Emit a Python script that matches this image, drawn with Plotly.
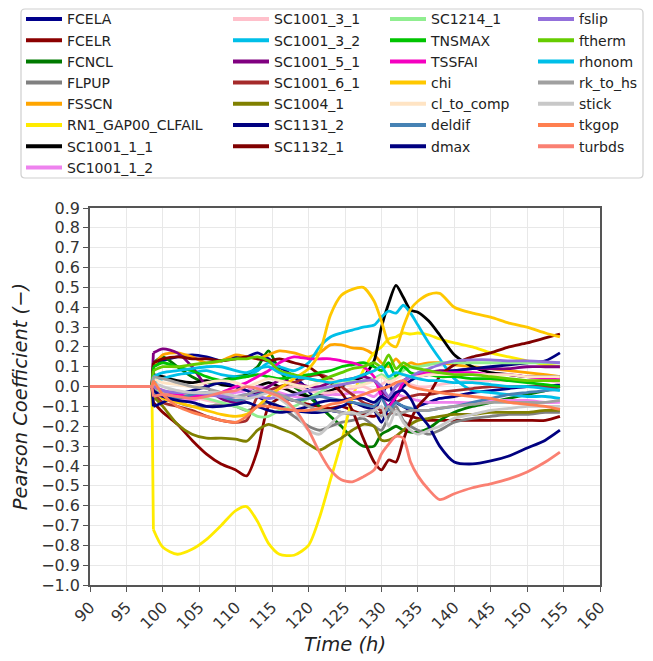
import plotly.graph_objects as go

# ---- time base (h) -------------------------------------------------------
# every coefficient is zero until the transient starts
time_pre = [90.0, 98.5]
time_h = [98.7, 100, 102, 104, 106, 108, 110, 111.5, 113, 114.5,
          116, 118, 120, 121.5, 123, 124.5, 126, 127.5, 129, 130,
          131, 132, 133, 134, 135, 136.5, 138, 140, 142.5, 145,
          147.5, 150, 152.5, 154.5]

# ---- Pearson coefficients per input parameter ----------------------------
fcela = [0.10, 0.13, 0.15, 0.16, 0.15, 0.13, 0.15, 0.15, 0.17, 0.14,
         0.10, 0.05, -0.02, -0.10, -0.12, -0.13, -0.14, -0.13, -0.12, -0.05,
         0.02, -0.08, -0.10, -0.12, -0.10, -0.08, -0.06, -0.05, -0.03, -0.02,
         -0.01, 0.00, 0.00, 0.01]
fcelr = [-0.08, -0.13, -0.19, -0.27, -0.34, -0.39, -0.42, -0.45, -0.32, -0.10,
         -0.06, -0.07, -0.09, -0.10, -0.11, -0.10, -0.12, -0.14, -0.15, -0.13,
         -0.14, -0.12, -0.14, -0.15, -0.16, -0.17, -0.17, -0.17, -0.17, -0.17,
         -0.17, -0.17, -0.17, -0.15]
fcncl = [0.12, 0.15, 0.10, 0.05, 0.02, 0.03, 0.05, 0.06, 0.10, 0.18,
         0.08, 0.00, -0.05, -0.10, -0.15, -0.20, -0.26, -0.30, -0.30, -0.24,
         -0.22, -0.20, -0.22, -0.23, -0.23, -0.21, -0.17, -0.13, -0.10, -0.08,
         -0.06, -0.04, -0.02, 0.00]
flpup = [0.00, -0.05, -0.08, -0.10, -0.10, -0.09, -0.10, -0.12, -0.10, -0.08,
         -0.10, -0.15, -0.20, -0.22, -0.20, -0.18, -0.17, -0.16, -0.20, -0.22,
         -0.15, -0.10, -0.17, -0.20, -0.22, -0.24, -0.22, -0.18, -0.16, -0.15,
         -0.14, -0.14, -0.13, -0.13]
fsscn = [0.10, 0.16, 0.17, 0.15, 0.12, 0.13, 0.16, 0.15, 0.14, 0.16,
         0.18, 0.17, 0.15, 0.17, 0.21, 0.21, 0.195, 0.19, 0.16, 0.12,
         0.10, 0.14, 0.10, 0.12, 0.11, 0.12, 0.12, 0.11, 0.10, 0.09,
         0.08, 0.07, 0.06, 0.05]
rn1_gap00_clfail = [-0.72, -0.81, -0.845, -0.82, -0.77, -0.70, -0.625, -0.605, -0.68, -0.79,
                    -0.845, -0.85, -0.80, -0.66, -0.47, -0.28, -0.06, 0.08, 0.17, 0.20,
                    0.24, 0.25, 0.27, 0.265, 0.27, 0.26, 0.24, 0.22, 0.20, 0.17,
                    0.15, 0.13, 0.11, 0.10]
sc1001_1_1 = [0.06, 0.05, 0.03, 0.02, 0.03, 0.01, 0.00, -0.02, 0.00, 0.02,
              0.00, -0.03, -0.05, -0.04, -0.02, 0.00, 0.03, 0.05, 0.13, 0.30,
              0.42, 0.51, 0.45, 0.385, 0.375, 0.33, 0.26, 0.16, 0.10, 0.07,
              0.06, 0.05, 0.05, 0.05]
sc1001_1_2 = [-0.02, -0.05, -0.06, -0.07, -0.05, -0.04, -0.03, -0.02, 0.00, -0.01,
              -0.03, -0.05, -0.06, -0.05, -0.04, -0.04, -0.03, -0.03, -0.05, -0.02,
              -0.06, -0.04, -0.05, -0.06, -0.07, -0.08, -0.08, -0.08, -0.08, -0.07,
              -0.07, -0.07, -0.08, -0.08]
sc1001_3_1 = [-0.05, -0.03, -0.02, -0.05, -0.07, -0.08, -0.06, -0.05, -0.03, -0.02,
              -0.01, 0.00, -0.02, -0.03, -0.03, -0.02, -0.01, 0.00, -0.02, 0.01,
              0.03, 0.00, 0.02, 0.01, 0.00, 0.00, 0.01, 0.02, 0.03, 0.03,
              0.03, 0.03, 0.03, 0.02]
sc1001_3_2 = [0.02, 0.04, 0.06, 0.07, 0.08, 0.06, 0.05, 0.05, 0.08, 0.12,
              0.10, 0.08, 0.12, 0.20, 0.25, 0.27, 0.285, 0.30, 0.31, 0.35,
              0.38, 0.37, 0.41, 0.37, 0.31, 0.22, 0.14, 0.04, -0.02, -0.03,
              -0.04, -0.05, -0.05, -0.06]
sc1001_5_1 = [0.17, 0.19, 0.17, 0.10, 0.00, -0.06, -0.08, -0.06, -0.03, 0.00,
              0.03, 0.02, 0.00, 0.00, 0.02, 0.03, 0.04, 0.05, 0.03, -0.02,
              -0.05, 0.00, 0.03, 0.05, 0.06, 0.07, 0.08, 0.08, 0.09, 0.09,
              0.09, 0.10, 0.10, 0.10]
sc1001_6_1 = [-0.03, -0.08, -0.10, -0.12, -0.15, -0.17, -0.18, -0.17, -0.05, -0.02,
              0.00, 0.02, 0.05, 0.06, 0.04, 0.00, -0.04, -0.08, -0.10, -0.12,
              -0.10, -0.08, -0.06, -0.05, -0.04, -0.04, -0.03, -0.02, -0.01, 0.00,
              0.00, 0.00, 0.00, 0.00]
sc1004_1 = [-0.05, -0.10, -0.19, -0.24, -0.26, -0.26, -0.265, -0.275, -0.22, -0.19,
            -0.21, -0.24, -0.29, -0.32, -0.29, -0.26, -0.22, -0.19, -0.20, -0.27,
            -0.27, -0.25, -0.22, -0.19, -0.17, -0.16, -0.15, -0.14, -0.14, -0.13,
            -0.13, -0.13, -0.12, -0.12]
sc1131_2 = [-0.10, -0.08, -0.04, -0.02, 0.00, 0.02, 0.00, -0.02, -0.05, -0.08,
            -0.10, -0.12, -0.13, -0.13, -0.12, -0.10, -0.08, -0.10, -0.12, -0.18,
            -0.10, -0.05, 0.00, 0.03, 0.05, 0.06, 0.07, 0.08, 0.09, 0.10,
            0.11, 0.12, 0.13, 0.17]
sc1132_1 = [0.12, 0.14, 0.15, 0.14, 0.14, 0.13, 0.14, 0.15, 0.14, 0.13,
            0.14, 0.12, 0.10, 0.06, 0.02, -0.03, -0.12, -0.26, -0.38, -0.42,
            -0.37, -0.38, -0.27, -0.17, -0.10, -0.04, 0.05, 0.11, 0.15, 0.17,
            0.20, 0.22, 0.245, 0.265]
sc1214_1 = [0.00, -0.03, -0.05, -0.04, -0.06, -0.08, -0.10, -0.12, -0.15, -0.15,
            -0.12, -0.10, -0.06, -0.03, 0.00, 0.02, 0.03, 0.02, 0.04, 0.06,
            0.04, 0.05, 0.08, 0.10, 0.10, 0.11, 0.12, 0.12, 0.12, 0.12,
            0.12, 0.12, 0.12, 0.12]
tnsmax = [0.10, 0.12, 0.10, 0.08, 0.05, 0.03, 0.04, 0.05, 0.06, 0.05,
          0.04, 0.05, 0.06, 0.07, 0.08, 0.10, 0.11, 0.12, 0.10, 0.08,
          0.12, 0.05, 0.10, 0.07, 0.06, 0.06, 0.05, 0.05, 0.04, 0.04,
          0.03, 0.02, 0.01, 0.00]
tssfai = [0.00, -0.02, -0.04, -0.05, -0.04, -0.03, 0.00, 0.02, 0.05, 0.08,
          0.12, 0.15, 0.14, 0.14, 0.14, 0.13, 0.12, 0.10, 0.05, -0.05,
          -0.10, -0.05, 0.02, 0.05, 0.06, 0.07, 0.07, 0.07, 0.07, 0.06,
          0.06, 0.05, 0.04, 0.035]
chi = [-0.02, -0.06, -0.08, -0.10, -0.12, -0.14, -0.15, -0.14, -0.10, -0.05,
       -0.01, 0.04, 0.09, 0.17, 0.36, 0.46, 0.49, 0.50, 0.43, 0.33,
       0.22, 0.20, 0.30, 0.39, 0.43, 0.465, 0.47, 0.40, 0.37, 0.35,
       0.32, 0.30, 0.27, 0.25]
cl_to_comp = [0.04, 0.02, 0.01, 0.00, 0.02, 0.03, 0.02, 0.00, 0.02, 0.04,
              0.03, 0.01, 0.00, 0.02, 0.03, 0.02, 0.00, 0.01, 0.03, 0.05,
              0.02, 0.04, 0.06, 0.05, 0.05, 0.06, 0.06, 0.06, 0.06, 0.06,
              0.06, 0.05, 0.05, 0.05]
deldif = [-0.03, -0.05, -0.06, -0.04, -0.03, -0.05, -0.07, -0.06, -0.04, -0.03,
          -0.05, -0.07, -0.06, -0.05, -0.06, -0.07, -0.08, -0.09, -0.10, -0.06,
          -0.12, -0.08, -0.10, -0.11, -0.12, -0.12, -0.11, -0.10, -0.08, -0.06,
          -0.04, -0.03, -0.02, -0.015]
dmax = [-0.02, -0.05, -0.07, -0.08, -0.10, -0.10, -0.09, -0.08, -0.10, -0.12,
        -0.13, -0.12, -0.10, -0.08, -0.07, -0.07, -0.06, -0.06, -0.08, -0.05,
        -0.07, -0.03, -0.02, -0.06, -0.13, -0.20, -0.30, -0.38, -0.39, -0.375,
        -0.35, -0.31, -0.27, -0.22]
fslip = [0.00, -0.02, -0.03, -0.03, -0.04, -0.05, -0.05, -0.04, -0.05, -0.06,
         -0.05, -0.04, -0.02, -0.01, 0.00, 0.01, 0.02, 0.03, 0.03, 0.00,
         -0.05, 0.00, 0.03, 0.05, 0.07, 0.09, 0.11, 0.13, 0.135, 0.135,
         0.13, 0.13, 0.125, 0.12]
ftherm = [0.08, 0.10, 0.10, 0.11, 0.12, 0.13, 0.14, 0.14, 0.15, 0.13,
          0.08, 0.06, 0.04, 0.03, 0.05, 0.07, 0.09, 0.10, 0.12, 0.10,
          0.16, 0.09, 0.12, 0.10, 0.09, 0.08, 0.07, 0.06, 0.06, 0.05,
          0.04, 0.03, 0.03, 0.03]
rhonom = [0.05, 0.07, 0.08, 0.09, 0.10, 0.10, 0.08, 0.07, 0.09, 0.10,
          0.07, 0.05, 0.04, 0.03, 0.02, 0.03, 0.04, 0.06, 0.08, 0.10,
          0.05, 0.07, 0.06, 0.05, 0.04, 0.03, 0.03, 0.02, 0.02, 0.01,
          0.00, 0.00, -0.01, -0.02]
rk_to_hs = [0.05, 0.04, 0.02, 0.00, -0.01, -0.03, -0.05, -0.04, -0.02, -0.02,
            -0.04, -0.07, -0.10, -0.12, -0.12, -0.13, -0.14, -0.13, -0.12, -0.15,
            -0.10, -0.14, -0.13, -0.12, -0.12, -0.12, -0.11, -0.10, -0.09, -0.08,
            -0.08, -0.08, -0.08, -0.07]
stick = [0.02, 0.00, -0.02, -0.03, -0.03, -0.03, -0.05, -0.06, -0.05, -0.03,
         -0.06, -0.12, -0.22, -0.24, -0.19, -0.14, -0.13, -0.15, -0.12, -0.10,
         -0.20, -0.12, -0.18, -0.22, -0.24, -0.22, -0.20, -0.16, -0.14, -0.12,
         -0.11, -0.10, -0.10, -0.10]
tkgop = [0.03, -0.04, -0.10, -0.13, -0.15, -0.17, -0.18, -0.15, -0.10, -0.10,
         -0.11, -0.12, -0.12, -0.11, -0.09, -0.08, -0.06, -0.04, -0.02, -0.01,
         0.00, 0.02, 0.03, 0.00, -0.01, -0.02, -0.03, -0.04, -0.05, -0.06,
         -0.08, -0.09, -0.10, -0.115]
turbds = [-0.05, -0.04, -0.05, -0.06, -0.05, -0.03, -0.02, 0.00, -0.01, -0.03,
          -0.05, -0.11, -0.22, -0.33, -0.42, -0.47, -0.48, -0.455, -0.42, -0.34,
          -0.29, -0.25, -0.26, -0.38, -0.45, -0.52, -0.57, -0.54, -0.51, -0.49,
          -0.465, -0.43, -0.38, -0.33]

names = ["FCELA", "FCELR", "FCNCL", "FLPUP", "FSSCN", "RN1_GAP00_CLFAIL",
         "SC1001_1_1", "SC1001_1_2", "SC1001_3_1", "SC1001_3_2", "SC1001_5_1",
         "SC1001_6_1", "SC1004_1", "SC1131_2", "SC1132_1", "SC1214_1", "TNSMAX",
         "TSSFAI", "chi", "cl_to_comp", "deldif", "dmax", "fslip", "ftherm",
         "rhonom", "rk_to_hs", "stick", "tkgop", "turbds"]
values = [fcela, fcelr, fcncl, flpup, fsscn, rn1_gap00_clfail,
          sc1001_1_1, sc1001_1_2, sc1001_3_1, sc1001_3_2, sc1001_5_1,
          sc1001_6_1, sc1004_1, sc1131_2, sc1132_1, sc1214_1, tnsmax,
          tssfai, chi, cl_to_comp, deldif, dmax, fslip, ftherm,
          rhonom, rk_to_hs, stick, tkgop, turbds]
colors = ["#00008B", "#8B0000", "#007A00", "#808080", "#FFA500", "#FFEB00",
          "#000000", "#EE82EE", "#FFC0CB", "#00BFE8", "#800080",
          "#A52A2A", "#808000", "#000080", "#800000", "#90EE90", "#00C400",
          "#F500C0", "#FFC800", "#FFE4C4", "#4682B4", "#000080", "#9370DB", "#66CC00",
          "#00BFE8", "#A0A0A0", "#C8C8C8", "#FF7F50", "#FA8072"]

x_ticks = [90, 95, 100, 105, 110, 115, 120, 125, 130, 135, 140, 145, 150, 155, 160]
y_ticks = [-1.0, -0.9, -0.8, -0.7, -0.6, -0.5, -0.4, -0.3, -0.2, -0.1,
           0.0, 0.1, 0.2, 0.3, 0.4, 0.5, 0.6, 0.7, 0.8, 0.9]

FONT = "DejaVu Sans"
W, H = 653, 661
M_L, M_R, M_T, M_B = 90, 53, 208, 76
PW, PH = W - M_L - M_R, H - M_T - M_B
LW = 2.8


def px_to_paper_x(px):
    return (px - M_L) / PW


def px_to_paper_y(py):
    return (H - M_B - py) / PH


fig = go.Figure()
for name, vals, col in zip(names, values, colors):
    # flat zero segment before the onset, then the smooth transient
    fig.add_trace(go.Scatter(
        x=time_pre + time_h[:1], y=[0.0, 0.0, vals[0]], mode="lines",
        line=dict(color=col, width=LW), showlegend=False, hoverinfo="skip"))
    fig.add_trace(go.Scatter(
        x=time_h, y=vals, mode="lines", name=name,
        line=dict(color=col, width=LW, shape="spline", smoothing=0.7),
        showlegend=False, hoverinfo="skip"))

# legend in four columns, each one its own legend box
col_sizes = [8, 7, 7, 7]
col_text_px = [67, 274, 431, 579]
legend_keys = ["legend", "legend2", "legend3", "legend4"]
ITEMW = 36
start = 0
legend_layout = {}
for key, n, tx in zip(legend_keys, col_sizes, col_text_px):
    for name, col in zip(names[start:start + n], colors[start:start + n]):
        fig.add_trace(go.Scatter(
            x=[None], y=[None], mode="lines", name=name,
            line=dict(color=col, width=4), legend=key, showlegend=True))
    start += n
    legend_layout[key] = dict(
        x=px_to_paper_x(tx - ITEMW - 10), y=px_to_paper_y(3.4),
        xanchor="left", yanchor="top", xref="paper", yref="paper",
        bgcolor="rgba(0,0,0,0)", borderwidth=0, itemwidth=ITEMW,
        tracegroupgap=0, font=dict(family=FONT, size=14, color="#222222"))

# frame around the legend entries
bx0, bx1 = px_to_paper_x(21), px_to_paper_x(643)
by0, by1 = px_to_paper_y(178), px_to_paper_y(9)
rx, ry = 4 / PW, 4 / PH
box_path = (f"M{bx0 + rx},{by1} L{bx1 - rx},{by1} Q{bx1},{by1} {bx1},{by1 - ry} "
            f"L{bx1},{by0 + ry} Q{bx1},{by0} {bx1 - rx},{by0} "
            f"L{bx0 + rx},{by0} Q{bx0},{by0} {bx0},{by0 + ry} "
            f"L{bx0},{by1 - ry} Q{bx0},{by1} {bx0 + rx},{by1} Z")

axis_common = dict(
    showline=True, linecolor="#555555", linewidth=1.5, mirror=True,
    ticks="outside", ticklen=5, tickwidth=1.2, tickcolor="#555555",
    showgrid=True, gridcolor="#E8E8E8", gridwidth=1, zeroline=False,
    tickfont=dict(family=FONT, size=16, color="#333333"),
)

fig.update_layout(
    width=W, height=H,
    margin=dict(l=M_L, r=M_R, t=M_T, b=M_B, autoexpand=False),
    paper_bgcolor="white", plot_bgcolor="white",
    font=dict(family=FONT),
    xaxis=dict(range=[90, 160], tickmode="array", tickvals=x_ticks,
               tickangle=-45,
               title=dict(text="Time (h)", standoff=2,
                          font=dict(family=FONT, size=19.5, color="#222222", style="italic")),
               **axis_common),
    yaxis=dict(range=[-1.0, 0.9], tickmode="array", tickvals=y_ticks,
               tickformat=".1f",
               title=dict(text="Pearson Coefficient (\u2212)", standoff=8,
                          font=dict(family=FONT, size=19.5, color="#222222", style="italic")),
               **axis_common),
    shapes=[dict(type="path", xref="paper", yref="paper", path=box_path,
                 line=dict(color="#CFCFCF", width=1.2), fillcolor="rgba(0,0,0,0)")],
    **legend_layout,
)

fig.write_html("out.html")
